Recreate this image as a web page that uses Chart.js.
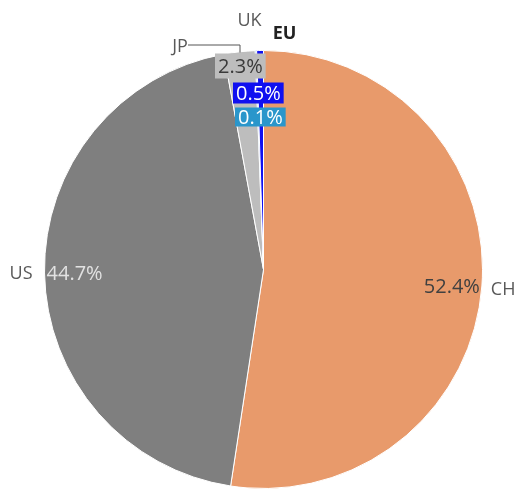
<!DOCTYPE html>
<html>
<head>
<meta charset="utf-8">
<script src="https://cdn.jsdelivr.net/npm/chart.js@4.4.1/dist/chart.umd.min.js"></script>
<style>
  html, body { margin: 0; padding: 0; background: #fff; }
  #wrap { width: 526px; height: 490px; position: relative; }
</style>
</head>
<body>
<div id="wrap"><canvas id="pie"></canvas></div>
<script>
// share by region, clockwise from 12 o'clock
const categories = ['CH', 'US', 'JP', 'UK', 'EU'];
const shares = [52.4, 44.7, 2.3, 0.1, 0.5];
const sliceColors = ['#E89A6B', '#7F7F7F', '#BDBDBD', '#2A96CB', '#1010F0'];

const FONT = '"Open Sans", "Noto Sans", sans-serif';

function pct(v) { return v.toFixed(1) + '%'; }

// labels: big slices get text inside the rim, the thin ones get stacked boxes under the top
const labelPlugin = {
  id: 'sliceLabels',
  afterDatasetsDraw(chart) {
    const ctx = chart.ctx;
    const arcs = chart.getDatasetMeta(0).data;
    const cx = arcs[0].x, cy = arcs[0].y, r = arcs[0].outerRadius;
    ctx.save();
    ctx.textBaseline = 'middle';

    arcs.forEach((arc, i) => {
      if (shares[i] < 10) return;
      const a = (arc.startAngle + arc.endAngle) / 2;
      const right = Math.cos(a) > 0;
      const px = cx + (r - 2) * Math.cos(a);
      const py = cy + (r - 2) * Math.sin(a);
      ctx.font = '20px ' + FONT;
      ctx.fillStyle = right ? '#404040' : '#e2e2e2';
      ctx.textAlign = right ? 'right' : 'left';
      ctx.fillText(pct(shares[i]), px, py + 1);
      // category name outside the rim
      ctx.font = '18px ' + FONT;
      ctx.fillStyle = '#595959';
      ctx.textAlign = right ? 'left' : 'right';
      ctx.fillText(categories[i], cx + (r + (right ? 9 : 12)) * Math.cos(a), py + (right ? 4 : 1));
    });

    // stacked boxes for the small slices
    const top = cy - r;
    const boxes = [
      { i: 2, x: cx - 48.5, y: top + 3, h: 25, fg: '#3a3a3a' },
      { i: 4, x: cx - 30.5, y: top + 32, h: 21, fg: '#ffffff' },
      { i: 3, x: cx - 28.5, y: top + 57, h: 19, fg: '#ffffff' }
    ];
    ctx.font = '20px ' + FONT;
    ctx.textAlign = 'left';
    boxes.forEach(b => {
      const txt = pct(shares[b.i]);
      const w = ctx.measureText(txt).width + 6;
      ctx.fillStyle = sliceColors[b.i];
      ctx.fillRect(b.x, b.y, w, b.h);
      ctx.fillStyle = b.fg;
      ctx.fillText(txt, b.x + 3, b.y + b.h / 2 + 1);
    });

    // names above the top
    ctx.fillStyle = '#595959';
    ctx.textAlign = 'center';
    ctx.font = '18px ' + FONT;
    ctx.fillText(categories[3], cx - 14, top - 30);
    ctx.fillText(categories[2], cx - 83.5, top - 4);
    ctx.font = 'bold 18px ' + FONT;
    ctx.fillStyle = '#222';
    ctx.fillText(categories[4], cx + 21, top - 17);

    // leader line for JP
    ctx.strokeStyle = '#555';
    ctx.lineWidth = 1;
    ctx.beginPath();
    ctx.moveTo(cx - 75.5, top - 5.5);
    ctx.lineTo(cx - 23.5, top - 5.5);
    ctx.lineTo(cx - 23.5, top + 2);
    ctx.stroke();
    ctx.restore();
  }
};

new Chart(document.getElementById('pie'), {
  type: 'pie',
  data: {
    labels: categories,
    datasets: [{
      data: shares,
      backgroundColor: sliceColors,
      borderColor: '#ffffff',
      borderWidth: 1
    }]
  },
  options: {
    responsive: true,
    maintainAspectRatio: false,
    animation: false,
    layout: { padding: { top: 50, bottom: 1, left: 44, right: 43 } },
    plugins: { legend: { display: false }, tooltip: { enabled: false } }
  },
  plugins: [labelPlugin]
});
</script>
</body>
</html>
